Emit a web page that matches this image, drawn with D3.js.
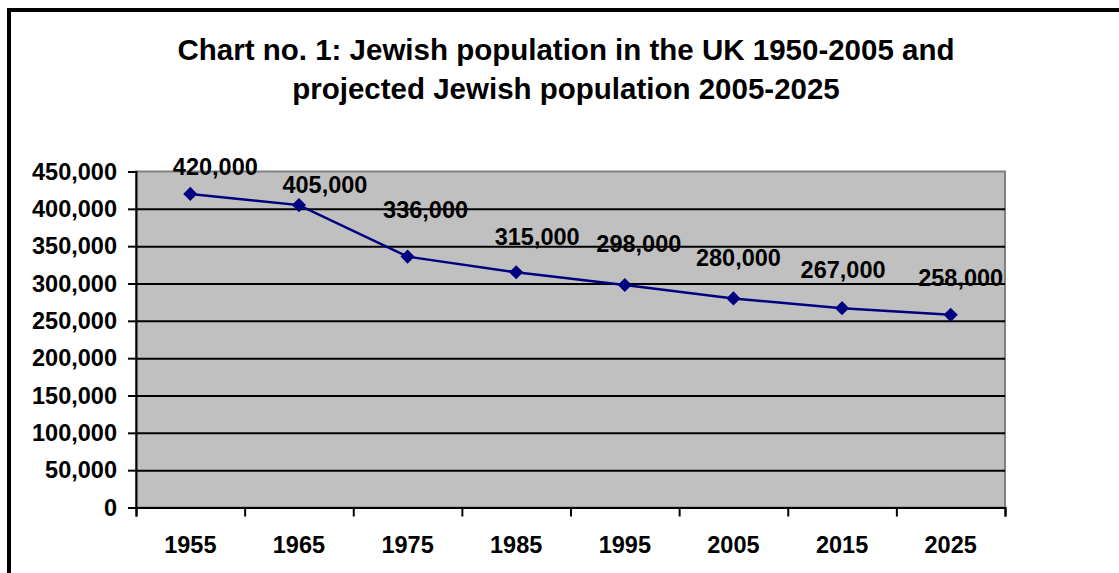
<!DOCTYPE html>
<html>
<head>
<meta charset="utf-8">
<script src="https://cdn.jsdelivr.net/npm/d3@7"></script>
<style>
	html, body { margin: 0; padding: 0; background: #fff; overflow: hidden; }
	svg { display: block; font-family: "Liberation Sans", Arial, sans-serif; font-weight: bold; }
</style>
</head>
<body>
<svg id="chart"></svg>
<script>
const width = 1119, height = 573;

// chart data
const years = ['1955', '1965', '1975', '1985', '1995', '2005', '2015', '2025'];
const population = [420000, 405000, 336000, 315000, 298000, 280000, 267000, 258000];
const yTicks = [0, 50000, 100000, 150000, 200000, 250000, 300000, 350000, 400000, 450000];
const titleLines = ['Chart no. 1: Jewish population in the UK 1950-2005 and', 'projected Jewish population 2005-2025'];

// data labels were dragged around by hand in the original, so nudge each one
const labelNudge = [[25, -27], [26, -21], [18, -47], [21, -36], [14, -41], [5, -41], [1, -39], [10, -37]];

const plot = { left: 136, top: 171.5, right: 1005, bottom: 507.5 };
const labelSize = 23.5;

const svg = d3.select('#chart').attr('width', width).attr('height', height);

// outer frame (runs off the right and bottom edge)
svg.append('rect')
	.attr('x', 9).attr('y', 10)
	.attr('width', 1140).attr('height', 600)
	.attr('fill', '#fff')
	.attr('stroke', '#000')
	.attr('stroke-width', 4);

// title
svg.append('text')
	.attr('text-anchor', 'middle')
	.attr('font-size', 29.5)
	.selectAll('tspan')
	.data(titleLines)
	.enter()
	.append('tspan')
	.attr('x', 566)
	.attr('y', (d, i) => 60 + i * 38.5)
	.text(d => d);

const x = d3.scaleBand().domain(years).range([plot.left, plot.right]).padding(0);
const y = d3.scaleLinear().domain([0, 450000]).range([plot.bottom, plot.top]);

// plot background
svg.append('rect')
	.attr('x', plot.left).attr('y', plot.top)
	.attr('width', plot.right - plot.left).attr('height', plot.bottom - plot.top)
	.attr('fill', '#c0c0c0')
	.attr('stroke', '#808080')
	.attr('stroke-width', 2);

// gridlines
const grid = svg.append('g')
	.attr('transform', `translate(${plot.left},0)`)
	.call(d3.axisLeft(y).tickValues(yTicks.filter(t => t > 0 && t < 450000)).tickSize(-(plot.right - plot.left)).tickFormat(''));
grid.select('.domain').remove();
grid.selectAll('.tick line').attr('stroke', '#000').attr('stroke-width', 2);

// y axis
const yAxis = svg.append('g')
	.attr('transform', `translate(${plot.left},0)`)
	.call(d3.axisLeft(y).tickValues(yTicks).tickSize(8).tickPadding(11).tickFormat(d3.format(',')));
yAxis.select('.domain').attr('stroke', '#000').attr('stroke-width', 2);
yAxis.selectAll('.tick line').attr('stroke', '#000').attr('stroke-width', 2);
yAxis.selectAll('.tick text')
	.attr('font-size', labelSize)
	.attr('font-family', '"Liberation Sans", Arial, sans-serif')
	.attr('font-weight', 'bold')
	.attr('fill', '#000');

// x axis: tick marks between categories
const xEdges = d3.scaleLinear().domain([0, years.length]).range([plot.left, plot.right]);
const xTickAxis = svg.append('g')
	.attr('transform', `translate(0,${plot.bottom})`)
	.call(d3.axisBottom(xEdges).tickValues(d3.range(years.length + 1)).tickSize(9).tickFormat(''));
xTickAxis.select('.domain').attr('stroke', '#000').attr('stroke-width', 2);
xTickAxis.selectAll('.tick line').attr('stroke', '#000').attr('stroke-width', 2);

// x axis labels centred in each band
const xLabelAxis = svg.append('g')
	.attr('transform', `translate(0,${plot.bottom})`)
	.call(d3.axisBottom(x).tickSize(0).tickPadding(29));
xLabelAxis.select('.domain').remove();
xLabelAxis.selectAll('.tick text')
	.attr('font-size', labelSize)
	.attr('font-family', '"Liberation Sans", Arial, sans-serif')
	.attr('font-weight', 'bold')
	.attr('fill', '#000');

const points = years.map((yr, i) => ({ year: yr, value: population[i], nudge: labelNudge[i] }));
const cx = d => x(d.year) + x.bandwidth() / 2;

// line
svg.append('path')
	.datum(points)
	.attr('fill', 'none')
	.attr('stroke', '#000080')
	.attr('stroke-width', 2.5)
	.attr('d', d3.line().x(cx).y(d => y(d.value)));

// diamond markers
svg.append('g')
	.selectAll('path')
	.data(points)
	.enter()
	.append('path')
	.attr('d', d3.symbol(d3.symbolSquare, 100))
	.attr('transform', d => `translate(${cx(d)},${y(d.value)}) rotate(45)`)
	.attr('fill', '#000080');

// data labels
svg.append('g')
	.selectAll('text')
	.data(points)
	.enter()
	.append('text')
	.attr('x', d => cx(d) + d.nudge[0])
	.attr('y', d => y(d.value) + d.nudge[1])
	.attr('dy', '0.36em')
	.attr('text-anchor', 'middle')
	.attr('font-size', labelSize)
	.attr('fill', '#000')
	.text(d => d3.format(',')(d.value));
</script>
</body>
</html>
